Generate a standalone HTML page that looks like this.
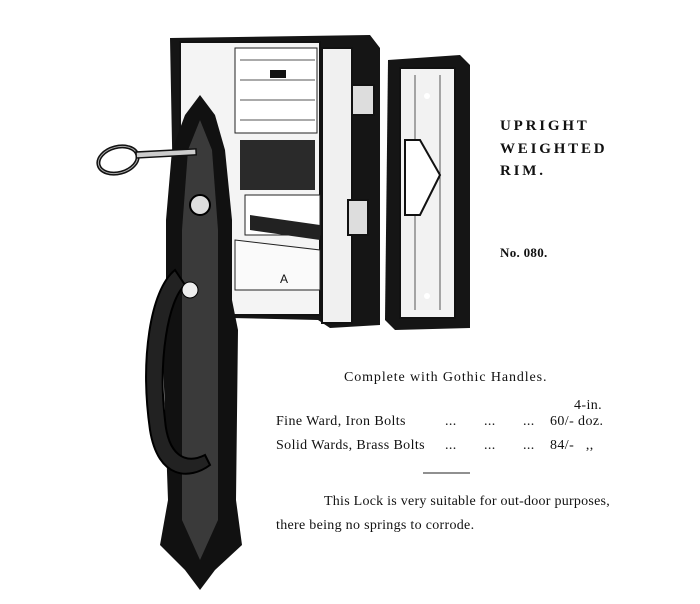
<!DOCTYPE html>
<html><head><meta charset="utf-8"><style>
html,body{margin:0;padding:0;background:#fff;}
#w{position:relative;width:700px;height:604px;overflow:hidden;background:#fff;font-family:"Liberation Serif",serif;color:#111;}
.t{position:absolute;white-space:nowrap;}
.h{font-weight:bold;font-size:15px;letter-spacing:2.8px;}
.s{font-size:14px;letter-spacing:0.4px;}
</style></head><body><div id="w">
<svg width="700" height="604" style="position:absolute;left:0;top:0">
<polygon points="170,38 370,35 380,48 380,325 330,328 318,320 232,318 232,300 175,300" fill="#151515"/>
<rect x="180" y="42" width="140" height="273" fill="#f4f4f4" stroke="#111" stroke-width="2"/>
<rect x="322" y="48" width="30" height="275" fill="#f0f0f0" stroke="#111" stroke-width="2"/>
<rect x="235" y="48" width="82" height="85" fill="#fff" stroke="#222"/>
<line x1="240" y1="60" x2="315" y2="60" stroke="#555"/><line x1="240" y1="80" x2="315" y2="80" stroke="#555"/><line x1="240" y1="100" x2="315" y2="100" stroke="#555"/><line x1="240" y1="120" x2="315" y2="120" stroke="#555"/>
<rect x="270" y="70" width="16" height="8" fill="#111"/>
<rect x="240" y="140" width="75" height="50" fill="#2a2a2a"/>
<rect x="245" y="195" width="75" height="40" fill="#fff" stroke="#222"/>
<polygon points="235,240 320,250 320,290 235,290" fill="#fafafa" stroke="#222"/>
<polygon points="250,215 320,225 320,240 250,230" fill="#222"/>
<text x="280" y="283" font-family="Liberation Sans,sans-serif" font-size="12" fill="#111">A</text>
<rect x="352" y="85" width="22" height="30" fill="#ddd" stroke="#111" stroke-width="2"/>
<rect x="348" y="200" width="20" height="35" fill="#ddd" stroke="#111" stroke-width="2"/>
<polygon points="388,60 460,55 470,65 470,328 395,330 385,320" fill="#151515"/>
<rect x="400" y="68" width="55" height="250" fill="#f2f2f2" stroke="#111" stroke-width="2"/>
<line x1="415" y1="75" x2="415" y2="310" stroke="#555"/><line x1="440" y1="75" x2="440" y2="310" stroke="#555"/>
<polygon points="405,140 420,140 440,175 420,215 405,215" fill="#fff" stroke="#111" stroke-width="2"/>
<circle cx="427" cy="96" r="3" fill="#fff"/><circle cx="427" cy="296" r="3" fill="#fff"/>
<path d="M200,95 L215,115 L225,150 L232,220 L232,300 L238,330 L236,500 L242,545 L215,570 L200,590 L185,570 L160,545 L168,500 L162,330 L166,300 L166,220 L172,150 L185,115 Z" fill="#111"/>
<path d="M200,120 L212,150 L218,230 L218,520 L200,560 L182,520 L182,230 L188,150 Z" fill="#3a3a3a"/>
<circle cx="200" cy="205" r="10" fill="#ddd" stroke="#000" stroke-width="2"/>
<path d="M175,270 C150,290 140,360 150,430 C158,480 190,480 210,465 L205,455 C185,465 168,455 165,420 C158,360 168,300 185,285 Z" fill="#222" stroke="#000" stroke-width="2"/>
<circle cx="190" cy="290" r="8" fill="#eee" stroke="#000"/>
<ellipse cx="118" cy="160" rx="20" ry="13" fill="none" stroke="#111" stroke-width="4" transform="rotate(-15 118 160)"/>
<ellipse cx="118" cy="160" rx="20" ry="13" fill="none" stroke="#aaa" stroke-width="1" transform="rotate(-15 118 160)"/>
<rect x="136" y="152" width="60" height="6" fill="#ccc" stroke="#111" stroke-width="1.5" transform="rotate(-3 136 152)"/>
<line x1="423" y1="473" x2="470" y2="473" stroke="#222" stroke-width="1"/>
</svg>
<div class="t h" style="left:500px;top:118px">UPRIGHT</div>
<div class="t h" style="left:500px;top:141px">WEIGHTED</div>
<div class="t h" style="left:500px;top:163px">RIM.</div>
<div class="t" style="left:500px;top:245px;font-weight:bold;font-size:13px;letter-spacing:0.3px">No. 080.</div>
<div class="t s" style="left:344px;top:370px;letter-spacing:0.9px">Complete with Gothic Handles.</div>
<div class="t s" style="left:574px;top:398px">4-in.</div>
<div class="t s" style="left:276px;top:414px">Fine Ward, Iron Bolts</div>
<div class="t s" style="left:445px;top:414px">...&nbsp;&nbsp;&nbsp;&nbsp;&nbsp;&nbsp;&nbsp;...&nbsp;&nbsp;&nbsp;&nbsp;&nbsp;&nbsp;&nbsp;...</div>
<div class="t s" style="left:550px;top:414px">60/- doz.</div>
<div class="t s" style="left:276px;top:438px">Solid Wards, Brass Bolts</div>
<div class="t s" style="left:445px;top:438px">...&nbsp;&nbsp;&nbsp;&nbsp;&nbsp;&nbsp;&nbsp;...&nbsp;&nbsp;&nbsp;&nbsp;&nbsp;&nbsp;&nbsp;...</div>
<div class="t s" style="left:550px;top:438px">84/-&nbsp;&nbsp;&nbsp;,,</div>
<div class="t s" style="left:324px;top:494px;letter-spacing:0.25px">This Lock is very suitable for out-door purposes,</div>
<div class="t s" style="left:276px;top:518px;letter-spacing:0.3px">there being no springs to corrode.</div>
</div></body></html>
